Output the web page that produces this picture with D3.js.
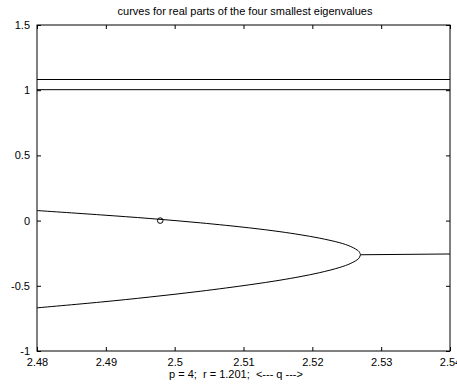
<!DOCTYPE html>
<html>
<head>
<meta charset="utf-8">
<script src="https://cdn.jsdelivr.net/npm/d3@7"></script>
<style>
  body { margin: 0; background: #fff; }
  svg { display: block; font-family: "Liberation Sans", Arial, sans-serif; }
</style>
</head>
<body>
<div id="chart"></div>
<script>
const WIDTH = 457;
const HEIGHT = 384;
const margins = [37, 7, 25, 33]; // LEFT, RIGHT, TOP, BOTTOM

const TITLE = "curves for real parts of the four smallest eigenvalues";
const XLABEL = "p = 4;  r = 1.201;  <--- q --->";

const xTicks = [2.48, 2.49, 2.5, 2.51, 2.52, 2.53, 2.54];
const yTicks = [-1, -0.5, 0, 0.5, 1, 1.5];

// eigenvalue curves
const qBranch = [2.48, 2.4892, 2.4964, 2.5037, 2.5109, 2.5153, 2.5182, 2.521, 2.524, 2.5255, 2.5265, 2.5268, 2.527];
const vUpper = [0.077, 0.044, 0.016, -0.017, -0.056, -0.085, -0.108, -0.134, -0.170, -0.197, -0.225, -0.238, -0.262];
const vLower = [-0.669, -0.625, -0.586, -0.542, -0.492, -0.457, -0.430, -0.400, -0.359, -0.330, -0.301, -0.286, -0.262];
const qMerged = [2.527, 2.54];
const vMerged = [-0.262, -0.256];
const qFlat = [2.48, 2.54];
const vFlatA = [1.082, 1.082];
const vFlatB = [1.004, 1.004];
const marker = { q: 2.4979, v: 0 };

const svg = d3.select("#chart").append("svg")
    .attr("width", WIDTH)
    .attr("height", HEIGHT);

const x = d3.scaleLinear()
    .domain([2.48, 2.54])
    .range([margins[0], WIDTH - margins[1]]);

const y = d3.scaleLinear()
    .domain([-1, 1.5])
    .range([HEIGHT - margins[3], margins[2]]);

const fmt = d => String(d);

// Ejes (ticks hacia adentro, estilo matlab)
svg.append("g")
    .attr("transform", `translate(0, ${y(-1)})`)
    .call(d3.axisBottom(x).tickValues(xTicks).tickSize(-4).tickPadding(7).tickFormat(fmt))
    .call(g => g.select(".domain").remove());

svg.append("g")
    .attr("transform", `translate(0, ${y(1.5)})`)
    .call(d3.axisTop(x).tickValues(xTicks).tickSize(-4).tickFormat(""))
    .call(g => g.select(".domain").remove());

svg.append("g")
    .attr("transform", `translate(${x(2.48)}, 0)`)
    .call(d3.axisLeft(y).tickValues(yTicks).tickSize(-4).tickPadding(7).tickFormat(fmt))
    .call(g => g.select(".domain").remove());

svg.append("g")
    .attr("transform", `translate(${x(2.54)}, 0)`)
    .call(d3.axisRight(y).tickValues(yTicks).tickSize(-4).tickFormat(""))
    .call(g => g.select(".domain").remove());

svg.selectAll(".tick text")
    .attr("font-size", 11)
    .attr("font-family", "Liberation Sans, Arial, sans-serif")
    .attr("fill", "#000");
svg.selectAll(".tick line").attr("stroke", "#000");

svg.append("rect")
    .attr("x", x(2.48))
    .attr("y", y(1.5))
    .attr("width", x(2.54) - x(2.48))
    .attr("height", y(-1) - y(1.5))
    .attr("fill", "none")
    .attr("stroke", "#000")
    .attr("stroke-width", 1);

// Curvas
const line = d3.line()
    .x(d => x(d[0]))
    .y(d => y(d[1]))
    .curve(d3.curveCatmullRom);

const series = [
    [qFlat, vFlatA],
    [qFlat, vFlatB],
    [qBranch, vUpper],
    [qBranch, vLower],
    [qMerged, vMerged]
];

svg.append("g")
    .selectAll("path")
    .data(series)
    .join("path")
    .attr("d", s => line(s[0].map((q, i) => [q, s[1][i]])))
    .attr("fill", "none")
    .attr("stroke", "#000")
    .attr("stroke-width", 1);

svg.append("circle")
    .attr("cx", x(marker.q))
    .attr("cy", y(marker.v))
    .attr("r", 2.8)
    .attr("fill", "none")
    .attr("stroke", "#000")
    .attr("stroke-width", 1);

// Textos
svg.append("text")
    .attr("x", 245)
    .attr("y", 15)
    .attr("text-anchor", "middle")
    .attr("font-size", 11)
    .text(TITLE);

svg.append("text")
    .attr("x", 236)
    .attr("y", 378)
    .attr("text-anchor", "middle")
    .attr("font-size", 11)
    .attr("xml:space", "preserve")
    .style("white-space", "pre")
    .text(XLABEL);
</script>
</body>
</html>
